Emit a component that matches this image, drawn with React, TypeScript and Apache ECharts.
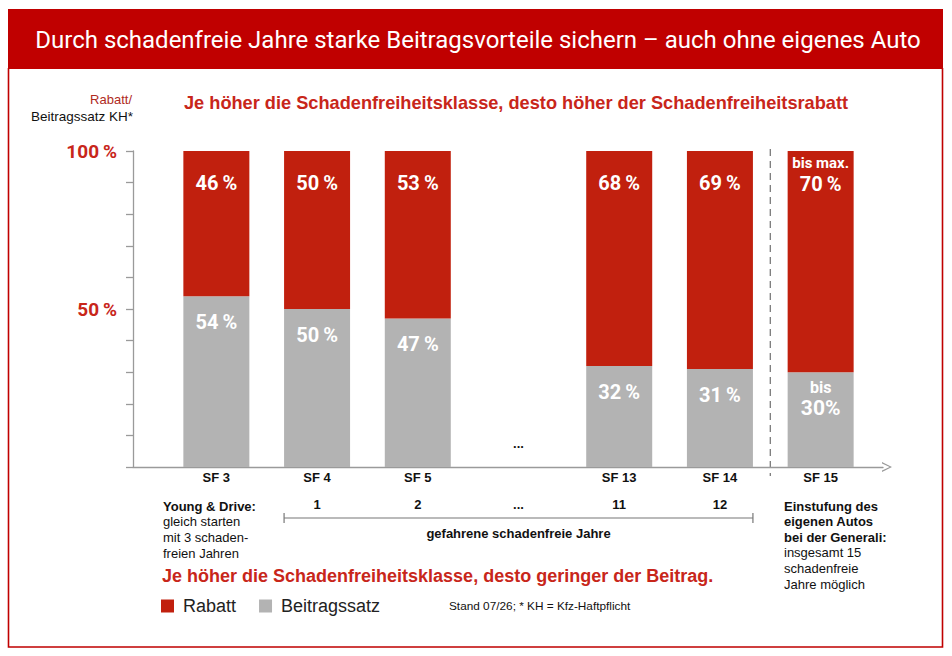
import React, { useEffect, useRef } from 'react';
import * as echarts from 'echarts';

const categories = ['SF 3', 'SF 4', 'SF 5', '...', 'SF 13', 'SF 14', 'SF 15'];
const rabatt: (number | null)[] = [46, 50, 53, null, 68, 69, 70];
const beitragssatz: (number | null)[] = [54, 50, 47, null, 32, 31, 30];
const yearsLabels = ['', '1', '2', '...', '11', '12', ''];
const yAxisLabels = [50, 100];

const RED = '#C1200E';
const GRAY = '#B3B3B3';
const TEXTRED = '#C8261A';
const SANS = '"Liberation Sans", Arial, sans-serif';

export default function App() {
  const ref = useRef<HTMLDivElement>(null);
  useEffect(() => {
    const chart = echarts.init(ref.current!, null, { renderer: 'svg' });
    const lastIdx = categories.length - 1;
    const option: any = {
      animation: false,
      backgroundColor: '#fff',
      legend: {
        data: ['Rabatt', 'Beitragssatz'],
        left: 156,
        top: 592,
        icon: 'rect',
        itemWidth: 13,
        itemHeight: 13,
        itemGap: 23,
        selectedMode: false,
        textStyle: { fontFamily: SANS, fontSize: 18, color: '#222', padding: [0, 0, 0, 4] },
      },
      grid: [
        { left: 166, top: 151, width: 705, height: 316 },
        { left: 133, top: 151, width: 750, height: 316 },
      ],
      xAxis: [
        {
          type: 'category',
          gridIndex: 0,
          data: categories,
          axisLine: { show: false },
          axisTick: { show: false },
          axisLabel: {
            margin: 4,
            formatter: (v: string) => (v === '...' ? '' : v),
            fontFamily: SANS,
            fontWeight: 'bold',
            fontSize: 13,
            color: '#111',
          },
        },
        {
          type: 'category',
          gridIndex: 0,
          data: categories,
          position: 'bottom',
          offset: 27,
          axisLine: { show: false },
          axisTick: { show: false },
          axisLabel: {
            margin: 4,
            formatter: (_v: string, i: number) => yearsLabels[i],
            fontFamily: SANS,
            fontWeight: 'bold',
            fontSize: 13,
            color: '#111',
          },
        },
        {
          type: 'value',
          gridIndex: 1,
          min: 0,
          max: 1,
          splitLine: { show: false },
          axisTick: { show: false },
          axisLabel: { show: false },
          axisLine: {
            show: true,
            lineStyle: { color: '#9a9a9a', width: 1.3 },
            symbol: ['none', 'path://M0,100 L50,0 L100,100 L86,100 L50,24 L14,100 Z'],
            symbolSize: [13, 10],
            symbolOffset: [0, 4],
          },
        },
      ],
      yAxis: [
        { type: 'value', gridIndex: 0, min: 0, max: 100, show: false },
        {
          type: 'value',
          gridIndex: 1,
          min: 0,
          max: 100,
          interval: 10,
          splitLine: { show: false },
          axisLine: { show: true, lineStyle: { color: '#9a9a9a', width: 1.3 } },
          axisTick: { show: true, length: 7, lineStyle: { color: '#9a9a9a', width: 1.3 } },
          axisLabel: {
            margin: 16,
            formatter: (v: number) => (yAxisLabels.includes(v) ? `${v}\u2009%` : ''),
            fontFamily: 'Roboto, sans-serif',
            fontWeight: 'bold',
            fontSize: 19,
            color: TEXTRED,
          },
        },
      ],
      series: [
        {
          name: 'Beitragssatz',
          type: 'bar',
          stack: 'total',
          xAxisIndex: 0,
          yAxisIndex: 0,
          barWidth: 66,
          itemStyle: { color: GRAY },
          data: beitragssatz.map((v, i) =>
            i === lastIdx ? { value: v, label: { distance: 5 } } : v
          ),
          label: {
            show: true,
            position: 'insideTop',
            distance: 15,
            color: '#fff',
            fontFamily: 'Roboto, sans-serif',
            fontWeight: 'bold',
            fontSize: 20,
            lineHeight: 22,
            formatter: (p: any) =>
              p.dataIndex === lastIdx ? `{s|bis}\n{b|${p.value}%}` : `${p.value}\u2009%`,
            rich: {
              s: { fontFamily: 'Roboto, sans-serif', fontWeight: 'bold', fontSize: 16, lineHeight: 20, color: '#fff' },
              b: { fontFamily: 'Roboto, sans-serif', fontWeight: 'bold', fontSize: 21, lineHeight: 22, color: '#fff' },
            },
          },
        },
        {
          name: 'Rabatt',
          type: 'bar',
          stack: 'total',
          xAxisIndex: 0,
          yAxisIndex: 0,
          barWidth: 66,
          itemStyle: { color: RED },
          data: rabatt.map((v, i) =>
            i === lastIdx ? { value: v, label: { distance: 2 } } : v
          ),
          label: {
            show: true,
            position: 'insideTop',
            distance: 21,
            color: '#fff',
            fontFamily: 'Roboto, sans-serif',
            fontWeight: 'bold',
            fontSize: 20,
            lineHeight: 22,
            formatter: (p: any) =>
              p.dataIndex === lastIdx ? `{s|bis max.}\n{b|${p.value}\u2009%}` : `${p.value}\u2009%`,
            rich: {
              s: { fontFamily: 'Roboto, sans-serif', fontWeight: 'bold', fontSize: 15, lineHeight: 20, color: '#fff' },
              b: { fontFamily: 'Roboto, sans-serif', fontWeight: 'bold', fontSize: 20, lineHeight: 22, color: '#fff' },
            },
          },
        },
      ],
    };
    chart.setOption(option);

    const px = (i: number) => chart.convertToPixel({ xAxisIndex: 0 }, categories[i]) as number;
    const half = 33;
    const dashX = (px(5) + px(6)) / 2;
    const brL = px(1) - half;
    const brR = px(5) + half;
    const brY = 518;

    const t = (text: string, x: number, y: number, opts: any = {}) => ({
      type: 'text',
      x,
      y,
      silent: true,
      style: {
        text,
        fill: opts.fill || '#111',
        font: opts.font || `13px ${SANS}`,
        textAlign: opts.align || 'left',
        textVerticalAlign: 'middle',
      },
    });

    const graphic: any[] = [
      { type: 'rect', shape: { x: 8, y: 9, width: 935, height: 60 }, style: { fill: '#C00000' } },
      {
        type: 'polyline',
        shape: { points: [[8.5, 68], [8.5, 647], [942.5, 647], [942.5, 68]] },
        style: { stroke: '#C00000', lineWidth: 1.6, fill: 'none' },
      },
      t('Durch schadenfreie Jahre starke Beitragsvorteile sichern \u2013 auch ohne eigenes Auto', 478, 40, {
        fill: '#fff',
        font: '24px Roboto, sans-serif',
        align: 'center',
      }),
      t('Rabatt/', 132, 99, { fill: '#B02A1E', font: `13px ${SANS}`, align: 'right' }),
      t('Beitragssatz KH*', 133, 116, { fill: '#111', font: `13.5px ${SANS}`, align: 'right' }),
      t('Je höher die Schadenfreiheitsklasse, desto höher der Schadenfreiheitsrabatt', 184, 103, {
        fill: TEXTRED,
        font: `bold 18.2px ${SANS}`,
      }),
      t('...', px(3), 443, { font: `bold 13px ${SANS}`, align: 'center' }),
      {
        type: 'line',
        shape: { x1: dashX, y1: 149, x2: dashX, y2: 476 },
        style: { stroke: '#707070', lineWidth: 1.2, lineDash: [7, 5] },
      },
      t('Young & Drive:', 163, 506, { font: `bold 13px ${SANS}` }),
      t('gleich starten', 163, 521.5),
      t('mit 3 schaden-', 163, 537),
      t('freien Jahren', 163, 553),
      {
        type: 'line',
        shape: { x1: brL, y1: brY, x2: brR, y2: brY },
        style: { stroke: '#777', lineWidth: 1.2 },
      },
      {
        type: 'line',
        shape: { x1: brL, y1: brY - 5, x2: brL, y2: brY + 5 },
        style: { stroke: '#777', lineWidth: 1.2 },
      },
      {
        type: 'line',
        shape: { x1: brR, y1: brY - 5, x2: brR, y2: brY + 5 },
        style: { stroke: '#777', lineWidth: 1.2 },
      },
      t('gefahrene schadenfreie Jahre', (brL + brR) / 2, 533, { font: `bold 13px ${SANS}`, align: 'center' }),
      t('Einstufung des', 784, 506, { font: `bold 13px ${SANS}` }),
      t('eigenen Autos', 784, 521.5, { font: `bold 13px ${SANS}` }),
      t('bei der Generali:', 784, 537, { font: `bold 13px ${SANS}` }),
      t('insgesamt 15', 784, 552.5),
      t('schadenfreie', 784, 568.5),
      t('Jahre möglich', 784, 584),
      t('Je höher die Schadenfreiheitsklasse, desto geringer der Beitrag.', 162, 576, {
        fill: TEXTRED,
        font: `bold 18px ${SANS}`,
      }),
      t('Stand 07/26; * KH = Kfz-Haftpflicht', 449, 606, { font: `11.8px ${SANS}` }),
    ];
    chart.setOption({ graphic });

    return () => chart.dispose();
  }, []);
  return (
    <div
      ref={ref}
      style={{ position: 'absolute', left: 0, top: 0, width: 952, height: 656, background: '#fff' }}
    />
  );
}
